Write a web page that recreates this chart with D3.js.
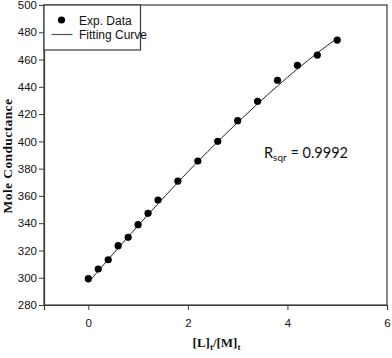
<!DOCTYPE html>
<html>
<head>
<meta charset="utf-8">
<script src="https://cdn.jsdelivr.net/npm/d3@7"></script>
<style>
html,body{margin:0;padding:0;background:#fff;}
svg{display:block;}
</style>
</head>
<body>
<script>
// Data
const ratio = [0, 0.2, 0.4, 0.6, 0.8, 1.0, 1.2, 1.4, 1.8, 2.2, 2.6, 3.0, 3.4, 3.8, 4.2, 4.6, 5.0];
const conductance = [299.3, 306.4, 313.2, 323.5, 329.6, 338.9, 347.2, 357.0, 370.9, 385.6, 400.0, 415.2, 429.4, 444.8, 455.8, 463.3, 474.3];
const fitX = [0, 0.2, 0.4, 0.6, 0.8, 1.0, 1.2, 1.4, 1.8, 2.2, 2.6, 3.0, 3.4, 3.8, 4.2, 4.6, 5.0];
const fitY = [296.5, 305.0, 313.4, 321.7, 330.0, 338.2, 346.3, 354.3, 370.0, 385.2, 399.8, 413.9, 427.5, 440.6, 453.1, 464.8, 475.6];
const xTicks = [0, 2, 4, 6];
const yTicks = [280, 300, 320, 340, 360, 380, 400, 420, 440, 460, 480, 500];
const legendLabels = ["Exp. Data", "Fitting Curve"];
const rsqrText = "0.9992";

const W = 392, H = 358;
const svg = d3.select("body").append("svg").attr("width", W).attr("height", H);

const x = d3.scaleLinear().domain([-0.89, 6]).range([44, 387]);
const y = d3.scaleLinear().domain([280, 500]).range([305, 5]);

const axisColor = "#3a3a3a";
const tickFont = "'Liberation Sans Narrow','Arial Narrow',sans-serif";

// frame
svg.append("rect").attr("x", 44).attr("y", 5).attr("width", 343).attr("height", 300)
  .attr("fill", "none").attr("stroke", axisColor).attr("stroke-width", 1.2);

// axes
const gy = svg.append("g").attr("transform", "translate(44,0)")
  .call(d3.axisLeft(y).tickValues(yTicks).tickSize(5).tickPadding(2).tickFormat(d3.format("d")));
const gx = svg.append("g").attr("transform", "translate(0,305)")
  .call(d3.axisBottom(x).tickValues(xTicks).tickSize(5).tickPadding(9).tickFormat(d3.format("d")));
[gx, gy].forEach(g => {
  g.select(".domain").attr("stroke", axisColor).attr("stroke-width", 1.2);
  g.selectAll(".tick line").attr("stroke", axisColor);
  g.selectAll(".tick text").attr("font-family", tickFont).attr("font-size", 11.5).attr("fill", "#111");
});

// fitting curve
svg.append("path")
  .datum(fitX.map((d, i) => [d, fitY[i]]))
  .attr("fill", "none").attr("stroke", "#222").attr("stroke-width", 1)
  .attr("d", d3.line().x(d => x(d[0])).y(d => y(d[1])).curve(d3.curveMonotoneX));

// points
svg.append("g").selectAll("circle")
  .data(ratio.map((d, i) => [d, conductance[i]]))
  .join("circle")
  .attr("cx", d => x(d[0])).attr("cy", d => y(d[1])).attr("r", 3.6).attr("fill", "#000");

// legend
const lg = svg.append("g");
lg.append("rect").attr("x", 44).attr("y", 5).attr("width", 96.5).attr("height", 45)
  .attr("fill", "#fff").attr("stroke", axisColor).attr("stroke-width", 1.2);
lg.append("circle").attr("cx", 61.5).attr("cy", 20).attr("r", 3.6).attr("fill", "#000");
lg.append("line").attr("x1", 51.5).attr("x2", 72.5).attr("y1", 34.5).attr("y2", 34.5)
  .attr("stroke", "#555").attr("stroke-width", 1.2);
lg.selectAll("text").data(legendLabels).join("text")
  .attr("x", 79).attr("y", (d, i) => 24.5 + i * 14.5)
  .attr("font-family", tickFont).attr("font-size", 12).attr("fill", "#111").text(d => d);

// R sqr annotation
const rt = svg.append("text").attr("x", 264).attr("y", 158)
  .attr("font-family", "Lato, 'Open Sans', sans-serif").attr("font-size", 14.5).attr("fill", "#111");
rt.append("tspan").text("R");
rt.append("tspan").attr("font-size", 10).attr("dy", 3).text("sqr");
rt.append("tspan").attr("dy", -3).text(" = " + rsqrText);

// axis titles
svg.append("text")
  .attr("transform", "translate(12,156) rotate(-90)")
  .attr("text-anchor", "middle")
  .attr("font-family", "'Liberation Serif','Times New Roman',serif")
  .attr("font-weight", "bold").attr("font-size", 13.5).attr("letter-spacing", 0.4)
  .attr("fill", "#111").text("Mole Conductance");

const xt = svg.append("text").attr("x", 216.5).attr("y", 346.5).attr("text-anchor", "middle")
  .attr("font-family", "'Liberation Serif','Times New Roman',serif")
  .attr("font-weight", "bold").attr("font-size", 13).attr("fill", "#111");
xt.append("tspan").text("[L]");
xt.append("tspan").attr("font-size", 9).attr("dy", 3).text("t");
xt.append("tspan").attr("dy", -3).text("/[M]");
xt.append("tspan").attr("font-size", 9).attr("dy", 3).text("t");
</script>
</body>
</html>
